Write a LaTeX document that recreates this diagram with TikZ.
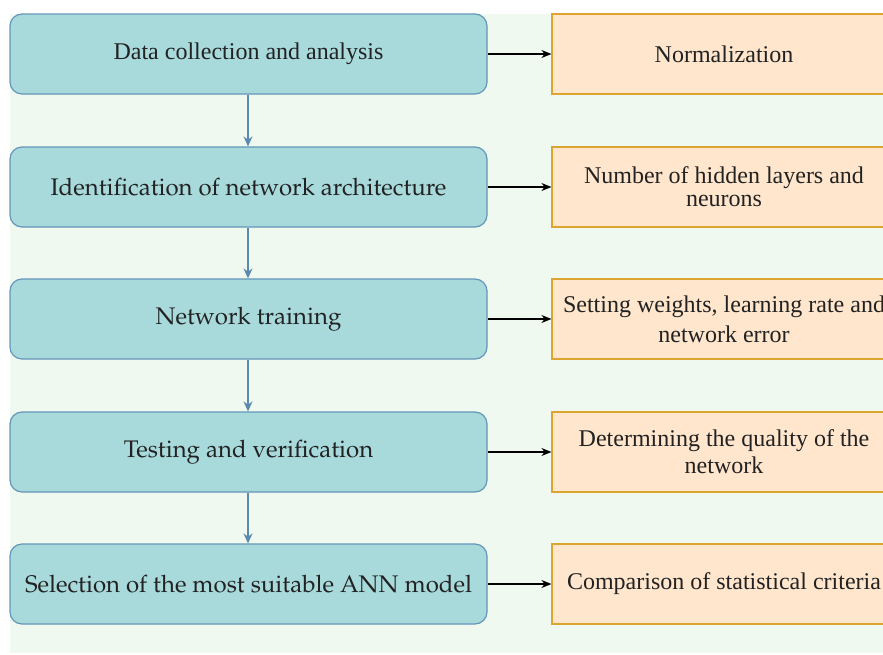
\documentclass[tikz,border=0pt]{standalone}
\usepackage[T1]{fontenc}
\usepackage{fontspec}
\setmainfont{Liberation Serif}
\newcommand{\palfont}{\fontencoding{T1}\fontfamily{ppl}\selectfont}
\usetikzlibrary{arrows.meta}
\definecolor{bgg}{HTML}{F0F9EF}
\definecolor{bfill}{HTML}{A8D9DB}
\definecolor{bstroke}{HTML}{6496BA}
\definecolor{varr}{HTML}{5A8AB0}
\definecolor{ofill}{HTML}{FFE6CC}
\definecolor{ostroke}{HTML}{DCA530}
\definecolor{txt}{HTML}{222222}
\tikzset{
  bluebox/.style={draw=bstroke, fill=bfill, rounded corners=12pt, line width=1.2pt,
    minimum width=477pt, minimum height=80pt, inner sep=0pt, align=center,
    text=txt, font=\palfont\fontsize{24}{28}\selectfont},
  orangebox/.style={draw=ostroke, fill=ofill, line width=1.2pt,
    minimum width=344pt, minimum height=80pt, inner sep=0pt, align=center,
    text=txt, font=\fontsize{24}{28}\selectfont},
  harrow/.style={draw=black, line width=1.2pt, -{Stealth[length=10pt,width=8pt]}},
  varrow/.style={draw=varr, line width=1.5pt, -{Stealth[length=10pt,width=9pt]}}
}
\begin{document}
\begin{tikzpicture}[x=1pt,y=-1pt]
\useasboundingbox (0,0) rectangle (883,654);
\fill[bgg] (10,14) rectangle (883,653);

\node[bluebox, font=\fontsize{24}{28}\selectfont] (b1) at (248.5,54) {Data collection and analysis};
\node[bluebox] (b2) at (248.5,187) {Identification of network architecture};
\node[bluebox] (b3) at (248.5,319) {Network training};
\node[bluebox] (b4) at (248.5,452) {Testing and verification};
\node[bluebox] (b5) at (248.5,584) {Selection of the most suitable ANN model};

\node[orangebox] (o1) at (724,54) {Normalization};
\node[orangebox, font=\fontsize{24}{23}\selectfont] (o2) at (724,187) {Number of hidden layers and\\neurons};
\node[orangebox, font=\fontsize{24}{30}\selectfont] (o3) at (724,319) {Setting weights, learning rate and\\network error};
\node[orangebox, font=\fontsize{24}{27}\selectfont] (o4) at (724,452) {Determining the quality of the\\network};
\node[orangebox] (o5) at (724,584) {Comparison of statistical criteria};

\foreach \i in {1,...,5} {\draw[harrow] (b\i.east) -- (o\i.west);}
\foreach \i/\j in {1/2,2/3,3/4,4/5} {\draw[varrow] ([xshift=-0.5pt]b\i.south) -- ([xshift=-0.5pt]b\j.north);}
\end{tikzpicture}
\end{document}
